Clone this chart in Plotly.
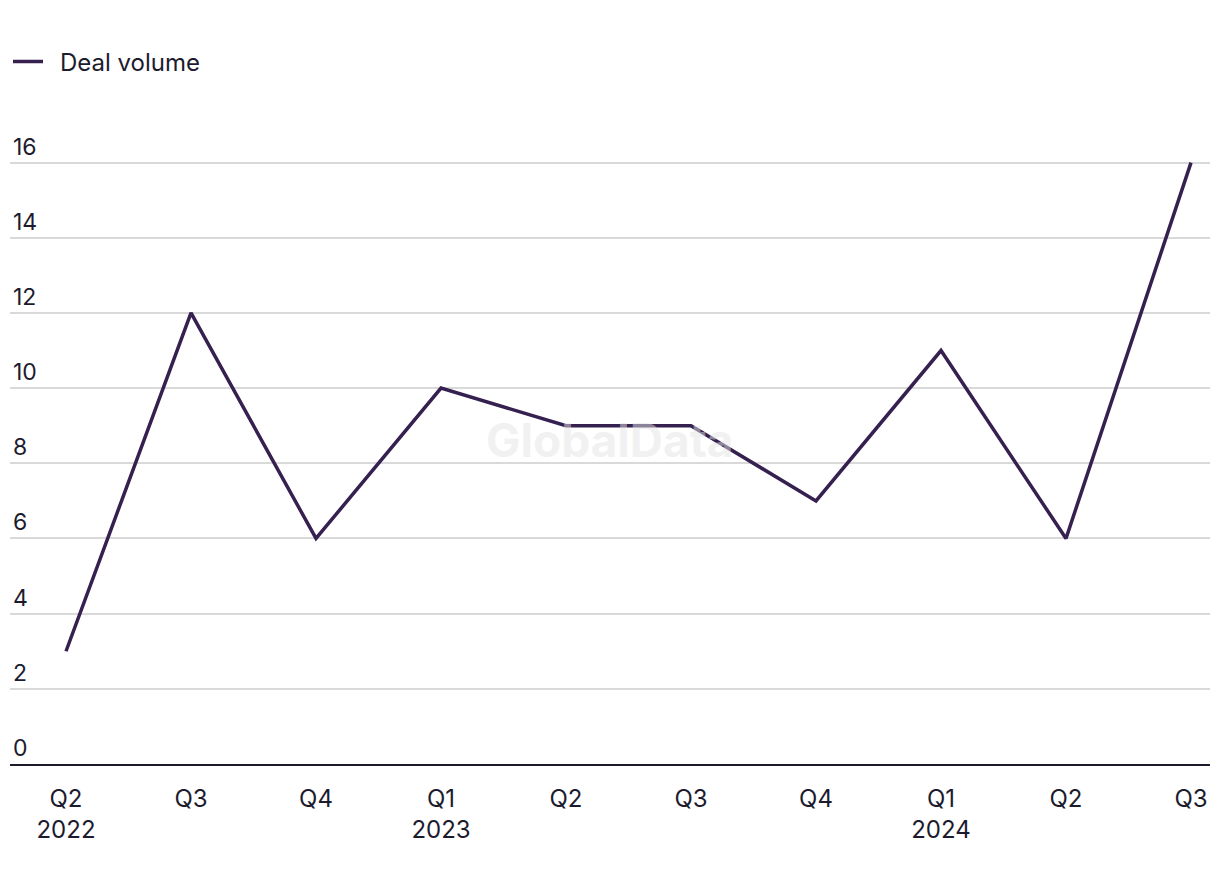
import plotly.graph_objects as go

quarters = ["Q2<br>2022", "Q3", "Q4", "Q1<br>2023", "Q2", "Q3", "Q4", "Q1<br>2024", "Q2", "Q3"]
deal_volume = [3, 12, 6, 10, 9, 9, 7, 11, 6, 16]
y_ticks = [0, 2, 4, 6, 8, 10, 12, 14, 16]

TEXT = "#1c1b2e"
FONT = "Inter"

fig = go.Figure()
fig.add_trace(go.Scatter(
    x=list(range(len(quarters))), y=deal_volume, mode="lines", name="\u2002Deal volume",
    line=dict(color="#35204f", width=3.5),
))

fig.update_layout(
    width=1212, height=876,
    margin=dict(l=2, r=10, t=117, b=120),
    paper_bgcolor="white", plot_bgcolor="white",
    font=dict(family=FONT, size=24, color=TEXT),
    showlegend=True,
    legend=dict(orientation="h", x=-0.0067, xref="paper", y=1 - 54 / 876, yref="container",
                yanchor="middle", xanchor="left", font=dict(size=24, color=TEXT),
                itemwidth=30),
    xaxis=dict(
        tickmode="array", tickvals=list(range(len(quarters))), ticktext=quarters,
        range=[-0.448, 9.152], showgrid=False, zeroline=False,
        showline=True, linecolor="#1b1b2b", linewidth=2, ticks="",
        ticklabelstandoff=12, tickfont=dict(color=TEXT, size=24),
    ),
    yaxis=dict(
        range=[0, 17], tickvals=y_ticks, showgrid=True, gridcolor="#d9d9d9",
        gridwidth=1.5, zeroline=False, showline=False, ticks="",
        ticklabelposition="inside top", ticklabelstandoff=0,
        tickfont=dict(color=TEXT, size=23),
    ),
    annotations=[dict(
        text="<b>GlobalData</b>", x=4.35, y=8.63, xref="x", yref="y",
        showarrow=False, font=dict(size=46, color="rgba(228,228,228,0.5)", family=FONT),
    )],
)

fig.write_html("out.html")
